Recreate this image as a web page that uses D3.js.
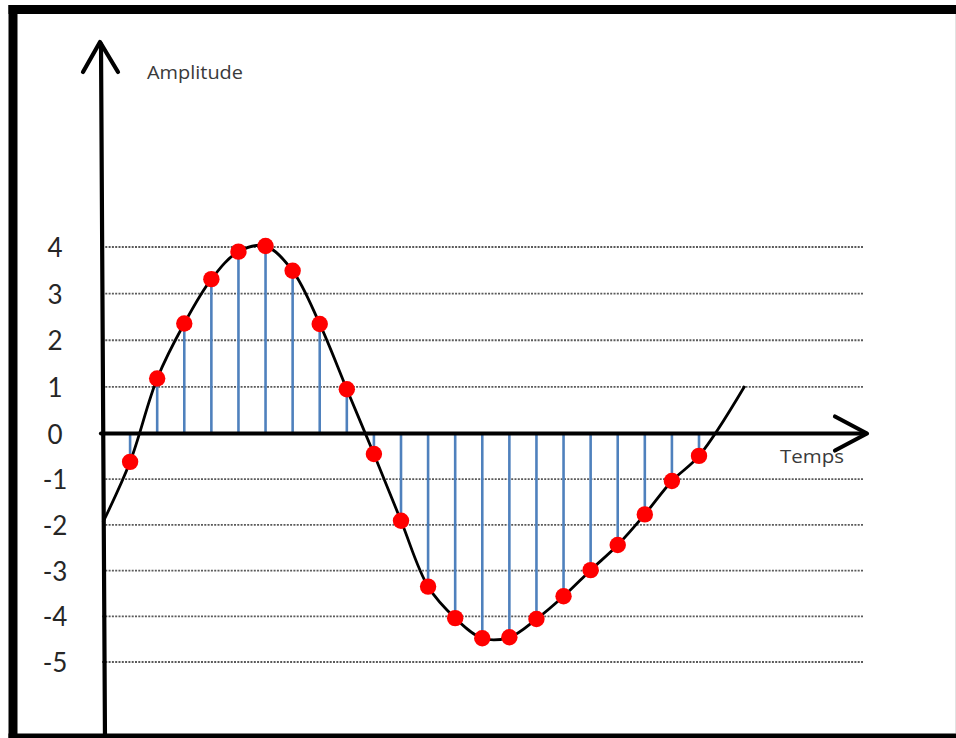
<!DOCTYPE html>
<html>
<head>
<meta charset="utf-8">
<script src="https://cdn.jsdelivr.net/npm/d3@7"></script>
<style>
  html, body { margin: 0; padding: 0; background: #fff; overflow: hidden; }
  svg { display: block; }
  text { font-family: "Open Sans", Lato, sans-serif; }
</style>
</head>
<body>
<svg id="chart" width="956" height="738"></svg>
<script>
// ---- data ----
const yTicks = [4, 3, 2, 1, 0, -1, -2, -3, -4, -5];
const sampleTimes = [1, 2, 3, 4, 5, 6, 7, 8, 9, 10, 11, 12, 13, 14, 15, 16, 17, 18, 19, 20, 21, 22];
const sampleValues = [-0.62, 1.18, 2.36, 3.31, 3.90, 4.02, 3.49, 2.35, 0.95, -0.45, -1.91,
                      -3.35, -4.04, -4.48, -4.46, -4.06, -3.56, -2.99, -2.44, -1.77, -1.04, -0.49];
const curveStart = { t: 0, v: -1.94 };
const curveEnd = { t: 23.69, v: 1.02 };
const xLabel = "Temps";
const yLabel = "Amplitude";

// ---- scales ----
const x = d3.scaleLinear().domain([0, 22]).range([103, 699]);
const y = d3.scaleLinear().domain([-5, 0, 4]).range([662, 433.5, 247]);

const svg = d3.select("#chart");

// frame: left, top and bottom edges (right edge is cropped off)
const frame = svg.append("g").attr("stroke", "#000").attr("stroke-width", 9);
frame.append("line").attr("x1", 13).attr("y1", 5).attr("x2", 13).attr("y2", 738);
frame.append("line").attr("x1", 8.5).attr("y1", 9.5).attr("x2", 956).attr("y2", 9.5);
frame.append("line").attr("x1", 8.5).attr("y1", 738).attr("x2", 956).attr("y2", 738);
svg.append("line")
  .attr("x1", 955.5).attr("x2", 955.5).attr("y1", 14).attr("y2", 733)
  .attr("stroke", "#e2e2e2").attr("stroke-width", 1);

// gridlines (dotted)
svg.append("g").selectAll("line")
  .data(yTicks.filter(d => d !== 0))
  .join("line")
  .attr("x1", 102).attr("x2", 864)
  .attr("y1", d => y(d)).attr("y2", d => y(d))
  .attr("stroke", "#5a5a5a").attr("stroke-width", 1.8)
  .attr("stroke-dasharray", "2,1.3");

// tick labels
svg.append("g").selectAll("text")
  .data(yTicks)
  .join("text")
  .attr("x", 55).attr("y", d => y(d))
  .attr("text-anchor", "middle").attr("dominant-baseline", "central")
  .style("font-family", "Lato, sans-serif")
  .attr("font-size", 26).attr("fill", "#262626")
  .text(d => d);

// stems
svg.append("g").selectAll("line")
  .data(sampleTimes.map((t, i) => ({ t, v: sampleValues[i] })))
  .join("line")
  .attr("x1", d => x(d.t)).attr("x2", d => x(d.t))
  .attr("y1", y(0)).attr("y2", d => y(d.v))
  .attr("stroke", "#4f81bd").attr("stroke-width", 2.6);

// axes
const axisG = svg.append("g")
  .attr("stroke", "#000").attr("stroke-width", 4.2)
  .attr("stroke-linecap", "round").attr("stroke-linejoin", "round").attr("fill", "none");
axisG.append("line").attr("x1", 101).attr("y1", 44).attr("x2", 105).attr("y2", 740);
axisG.append("path").attr("d", "M83,72 L100,42 L118,72");
axisG.append("line").attr("x1", 101).attr("y1", y(0)).attr("x2", 866).attr("y2", y(0));
axisG.append("path").attr("d", `M835,${y(0) - 17} L867,${y(0)} L835,${y(0) + 17}`);

// continuous signal
const curvePts = [curveStart, ...sampleTimes.map((t, i) => ({ t, v: sampleValues[i] })), curveEnd];
svg.append("path")
  .datum(curvePts)
  .attr("d", d3.line().x(d => x(d.t)).y(d => y(d.v)).curve(d3.curveCatmullRom.alpha(0.5)))
  .attr("fill", "none").attr("stroke", "#000").attr("stroke-width", 2.8);

// sample dots
svg.append("g").selectAll("circle")
  .data(sampleTimes.map((t, i) => ({ t, v: sampleValues[i] })))
  .join("circle")
  .attr("cx", d => x(d.t)).attr("cy", d => y(d.v))
  .attr("r", 8.2).attr("fill", "#ff0000");

// axis titles
svg.append("text").attr("x", 147).attr("y", 79)
  .attr("font-size", 18).attr("fill", "#3a3a3a")
  .attr("textLength", 96).attr("lengthAdjust", "spacingAndGlyphs").text(yLabel);
svg.append("text").attr("x", 780).attr("y", 463)
  .attr("font-size", 18).attr("fill", "#3a3a3a")
  .attr("textLength", 64).attr("lengthAdjust", "spacingAndGlyphs").text(xLabel);
</script>
</body>
</html>
